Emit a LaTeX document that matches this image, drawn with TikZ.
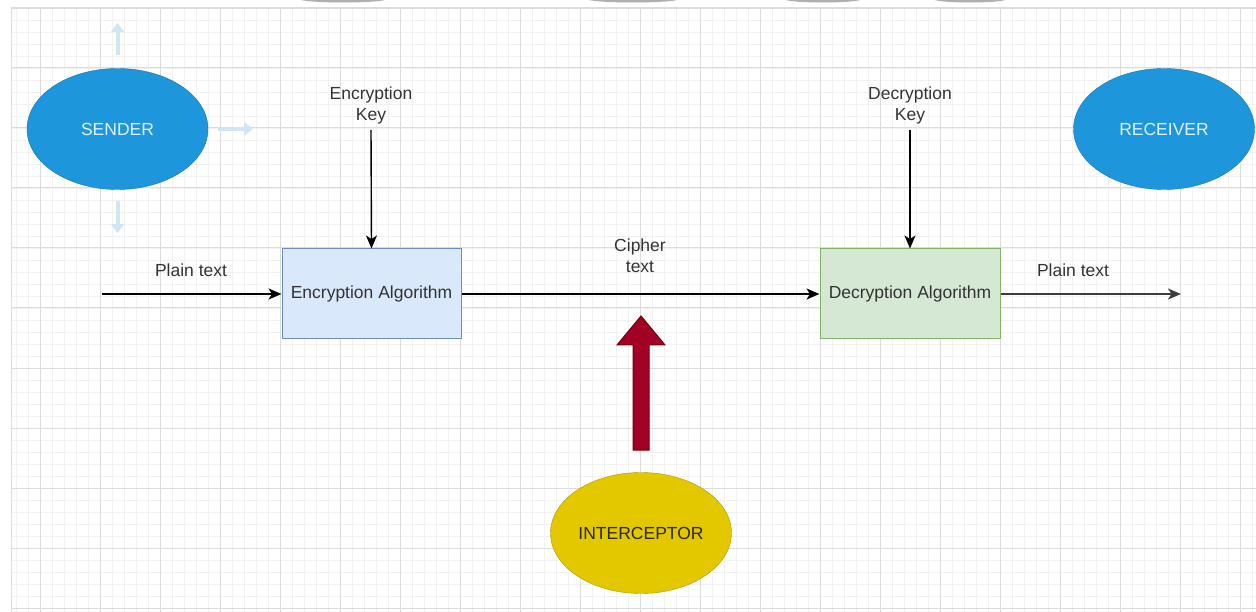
\documentclass[tikz,border=0pt]{standalone}
\usepackage{fontspec}
\setmainfont{Liberation Sans}
\usetikzlibrary{shapes.geometric,arrows.meta}
\definecolor{gmajor}{RGB}{220,220,220}
\definecolor{gminor}{RGB}{241,241,241}
\definecolor{txtgray}{RGB}{51,51,51}
\definecolor{bluefill}{RGB}{30,150,220}
\definecolor{bluedraw}{RGB}{20,115,180}
\definecolor{bluetxt}{RGB}{225,240,250}
\definecolor{encfill}{RGB}{218,232,252}
\definecolor{encdraw}{RGB}{108,142,191}
\definecolor{decfill}{RGB}{213,232,212}
\definecolor{decdraw}{RGB}{130,179,102}
\definecolor{yelfill}{RGB}{227,200,0}
\definecolor{yeldraw}{RGB}{176,149,0}
\definecolor{yeltxt}{RGB}{45,40,10}
\definecolor{redfill}{RGB}{162,0,37}
\definecolor{reddraw}{RGB}{111,0,0}
\definecolor{hoverblue}{RGB}{208,230,244}
\definecolor{topgray}{RGB}{175,175,175}
\begin{document}
\begin{tikzpicture}[x=1pt,y=-1pt,
  font=\fontsize{17.5}{21}\selectfont,
  lbl/.style={text=txtgray, align=center, inner sep=0pt},
  actor/.style={ellipse, minimum width=181pt, minimum height=121pt, inner sep=0pt},
  algobox/.style={rectangle, minimum width=179pt, minimum height=90pt, inner sep=0pt, line width=1pt, text=txtgray},
  conn/.style={draw=black, line width=1.4pt, -{Stealth[length=13pt,width=11pt,inset=3.5pt]}},
  hover/.style={draw=hoverblue, line width=4pt, -{Triangle[length=9pt,width=13pt]}},
]
\useasboundingbox (0,0) rectangle (1256,612);
\begin{scope}
\clip (0,0) rectangle (1256,612);
% grid
\foreach \x in {16,28,...,1252} \draw[gminor, line width=0.8pt] (\x,8) -- (\x,612);
\foreach \y in {20,32,...,608} \draw[gminor, line width=0.8pt] (11,\y) -- (1256,\y);
\foreach \x in {40,100,...,1240} \draw[gmajor, line width=1pt] (\x,8) -- (\x,612);
\foreach \y in {68,128,...,608} \draw[gmajor, line width=1pt] (11,\y) -- (1256,\y);
\draw[gmajor, line width=1.5pt] (11,8) -- (1256,8);
\draw[gmajor, line width=1pt] (11,8) -- (11,612);
% partial shapes at the top edge
\foreach \cx/\rx in {343/44, 633/46, 823/39, 970/37}
  \fill[topgray] (\cx,-1) ellipse [x radius=\rx, y radius=3.5];
\end{scope}

% actors
\node[actor, fill=bluefill, draw=bluedraw, text=bluetxt] (sender) at (117.5,129) {SENDER};
\node[actor, fill=bluefill, draw=bluedraw, text=bluetxt] (receiver) at (1164,129) {RECEIVER};
\node[actor, fill=yelfill, draw=yeldraw, text=yeltxt] (interceptor) at (641,533) {INTERCEPTOR};

% faint hover arrows around the sender
\coordinate (hu) at (117.5,23);
\coordinate (hr) at (253,129);
\coordinate (hd) at (117.5,233);
\draw[hover] ([yshift=13pt]sender.north) -- (hu);
\draw[hover] ([xshift=10pt]sender.east) -- (hr);
\draw[hover] ([yshift=-11pt]sender.south) -- (hd);

% algorithm boxes
\node[algobox, fill=encfill, draw=encdraw] (enc) at (371.5,294) {Encryption Algorithm};
\node[algobox, fill=decfill, draw=decdraw, minimum width=180pt] (dec) at (910,294) {Decryption Algorithm};

% key labels
\node[lbl] (enckey) at (371,105) {Encryption\\Key};
\node[lbl] (deckey) at (910,105) {Decryption\\Key};
\draw[conn] ([yshift=-6pt]enckey.south) -- (enc.north);
\draw[conn] ([yshift=-6pt]deckey.south) -- (dec.north);

% text flow
\coordinate (pin) at (102,294);
\coordinate (pout) at (1181,294);
\node[lbl, anchor=base] (plainin) at (191,277) {Plain text};
\node[lbl, anchor=base] (plainout) at (1073,277) {Plain text};
\node[lbl] (cipher) at (640,256) {Cipher\\text};
\draw[conn] (pin) -- (enc.west);
\draw[conn] (enc.east) -- (dec.west);
\draw[conn, draw={rgb,255:red,60;green,60;blue,60}, line width=2pt] (dec.east) -- (pout);

% interceptor's block arrow
\draw[fill=redfill, draw=reddraw, line width=1pt]
  (633,450) -- (649,450) -- (649,345) -- (665,345) -- (641,316)
  -- (617,345) -- (633,345) -- cycle;
\end{tikzpicture}
\end{document}
